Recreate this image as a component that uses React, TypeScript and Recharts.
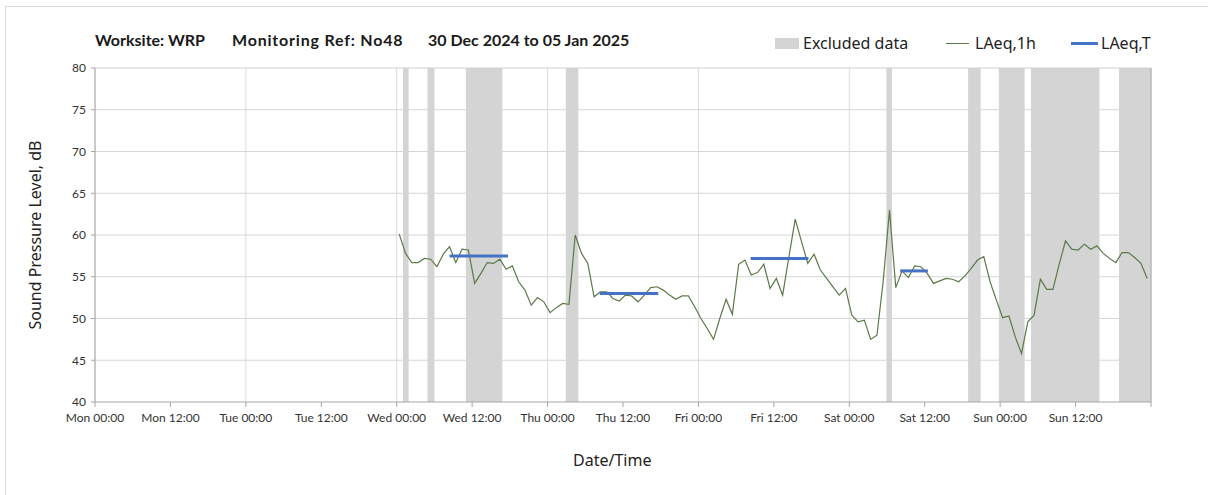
import {
  ComposedChart,
  Line,
  XAxis,
  YAxis,
  CartesianGrid,
  ReferenceArea,
  ReferenceLine,
  Label,
} from "recharts";

/* hourly LAeq,1h readings, first one at Wed 00:00 (hour 48 of the week) */
const START_HOUR = 48;
const POINT_OFFSET = 0.4;
const laeq1h = [
  60.1, 57.8, 56.7, 56.7, 57.2, 57.1, 56.2, 57.7, 58.6, 56.7,
  58.3, 58.2, 54.2, 55.4, 56.7, 56.6, 57.1, 55.9, 56.3, 54.4,
  53.4, 51.6, 52.5, 52.0, 50.7, 51.3, 51.8, 51.7, 60.0, 57.8,
  56.6, 52.6, 53.2, 53.2, 52.4, 52.1, 52.8, 52.7, 52.0, 52.8,
  53.7, 53.8, 53.4, 52.8, 52.3, 52.7, 52.7, 51.4, 50.0, 48.8,
  47.5, 50.0, 52.3, 50.5, 56.5, 57.0, 55.2, 55.5, 56.5, 53.6,
  54.8, 52.8, 57.4, 61.9, 59.2, 56.6, 57.7, 55.8, 54.8, 53.8,
  52.8, 53.6, 50.4, 49.6, 49.8, 47.5, 48.0, 54.5, 63.0, 53.7,
  55.7, 54.9, 56.3, 56.2, 55.4, 54.2, 54.5, 54.8, 54.7, 54.4,
  55.1, 56.0, 57.0, 57.4, 54.4, 52.2, 50.1, 50.3, 47.8, 45.8,
  49.6, 50.4, 54.7, 53.5, 53.5, 56.5, 59.3, 58.3, 58.2, 58.9,
  58.3, 58.7, 57.8, 57.2, 56.7, 57.9, 57.9, 57.3, 56.6, 54.8,
];

/* LAeq,T periods (hours from Mon 00:00) and levels */
const laeqTPeriods = [
  [56.4, 65.7],
  [80.3, 89.6],
  [104.3, 113.5],
  [128.1, 132.5],
];
const laeqTValues = [57.5, 53.0, 57.2, 55.7];

/* excluded data windows, hours from Mon 00:00 */
const excludedWindows = [
  [49, 49.9],
  [52.9, 54],
  [59, 64.8],
  [74.9, 76.9],
  [125.9, 126.8],
  [138.9, 140.9],
  [143.8, 147.9],
  [148.9, 159.8],
  [162.9, 168],
];

const xTicks = [0, 12, 24, 36, 48, 60, 72, 84, 96, 108, 120, 132, 144, 156, 168];
const xTickLabels = [
  "Mon 00:00", "Mon 12:00", "Tue 00:00", "Tue 12:00", "Wed 00:00",
  "Wed 12:00", "Thu 00:00", "Thu 12:00", "Fri 00:00", "Fri 12:00",
  "Sat 00:00", "Sat 12:00", "Sun 00:00", "Sun 12:00", "",
];
const dayTicks = [0, 24, 48, 72, 96, 120, 144, 168];
const yTicks = [40, 45, 50, 55, 60, 65, 70, 75, 80];

const GREEN = "#5b7a48";
const BLUE = "#4472c4";
const BAND = "#d4d4d4";

const hourlyData = laeq1h.map((v, i) => ({ t: START_HOUR + i + POINT_OFFSET, v }));
const periodData = laeqTPeriods.map(([a, b], i) => [
  { t: a, v: laeqTValues[i] },
  { t: b, v: laeqTValues[i] },
]);

const tickFont = { fontSize: 12, fill: "#333", fontFamily: "Lato, sans-serif" };
const legendText = {
  position: "absolute" as const,
  fontSize: 16,
  color: "#222",
  fontFamily: "'Noto Sans', sans-serif",
  whiteSpace: "nowrap" as const,
  lineHeight: "20px",
};
const titleText = {
  position: "absolute" as const,
  top: 30,
  fontFamily: "Lato, sans-serif",
  fontWeight: 700,
  fontSize: 16,
  color: "#1a1a1a",
  whiteSpace: "nowrap" as const,
};

export default function App() {
  return (
    <div
      style={{
        position: "absolute",
        left: 0,
        top: 0,
        width: 1208,
        height: 495,
        background: "#fff",
        overflow: "hidden",
      }}
    >
      <div
        style={{
          position: "absolute",
          left: 5,
          top: 6,
          width: 1260,
          height: 560,
          borderLeft: "1px solid #d9d9d9",
          borderTop: "1px solid #d9d9d9",
        }}
      />

      <ComposedChart
        width={1208}
        height={495}
        data={hourlyData}
        margin={{ top: 68, right: 57, bottom: 33, left: 0 }}
      >
        <XAxis xAxisId="grid" type="number" dataKey="t" domain={[0, 168]} ticks={dayTicks} hide />
        <CartesianGrid xAxisId="grid" horizontal={false} stroke="#dcdcdc" />
        <XAxis
          dataKey="t"
          type="number"
          domain={[0, 168]}
          ticks={xTicks}
          interval={0}
          tickFormatter={(t: number) => xTickLabels[xTicks.indexOf(t)] ?? ""}
          tick={tickFont}
          tickSize={5}
          tickMargin={6}
          height={60}
          stroke="#a6a6a6"
        />
        <YAxis
          type="number"
          domain={[40, 80]}
          ticks={yTicks}
          interval={0}
          tick={tickFont}
          tickSize={4}
          tickMargin={5}
          width={95}
          stroke="#a6a6a6"
        >
          <Label
            value="Sound Pressure Level, dB"
            angle={-90}
            position="insideLeft"
            offset={35}
            style={{ textAnchor: "middle", fontSize: 16, fill: "#222", fontFamily: "'Noto Sans', sans-serif" }}
          />
        </YAxis>

        {excludedWindows.map(([a, b]) => (
          <ReferenceArea
            key={a}
            x1={a}
            x2={b}
            y1={40}
            y2={80}
            fill={BAND}
            fillOpacity={1}
            stroke="none"
            ifOverflow="hidden"
          />
        ))}
        {yTicks.slice(1).map((y) => (
          <ReferenceLine key={y} y={y} stroke={y === 80 ? "#d0d0d0" : "#d6d6d6"} strokeWidth={1} />
        ))}
        <ReferenceLine x={168} stroke="#a6a6a6" />

        <Line
          dataKey="v"
          stroke={GREEN}
          strokeWidth={1.2}
          dot={false}
          activeDot={false}
          isAnimationActive={false}
        />
        {periodData.map((d, i) => (
          <Line
            key={i}
            data={d}
            dataKey="v"
            stroke={BLUE}
            strokeWidth={3}
            dot={false}
            activeDot={false}
            isAnimationActive={false}
          />
        ))}
      </ComposedChart>

      {/* title */}
      <span style={{ ...titleText, left: 95 }}>Worksite: WRP</span>
      <span style={{ ...titleText, left: 232, letterSpacing: 0.8 }}>Monitoring Ref: No48</span>
      <span style={{ ...titleText, left: 428 }}>30 Dec 2024 to 05 Jan 2025</span>

      {/* legend */}
      <span style={{ position: "absolute", left: 775, top: 38, width: 24, height: 11, background: BAND }} />
      <span style={{ ...legendText, left: 803, top: 33 }}>Excluded data</span>
      <span style={{ position: "absolute", left: 946, top: 43, width: 23, height: 1, background: GREEN }} />
      <span style={{ ...legendText, left: 975, top: 33 }}>LAeq,1h</span>
      <span style={{ position: "absolute", left: 1071, top: 42, width: 27, height: 3, background: BLUE }} />
      <span style={{ ...legendText, left: 1101, top: 33 }}>LAeq,T</span>

      {/* x axis title */}
      <span style={{ ...legendText, left: 573, top: 450 }}>Date/Time</span>
    </div>
  );
}
